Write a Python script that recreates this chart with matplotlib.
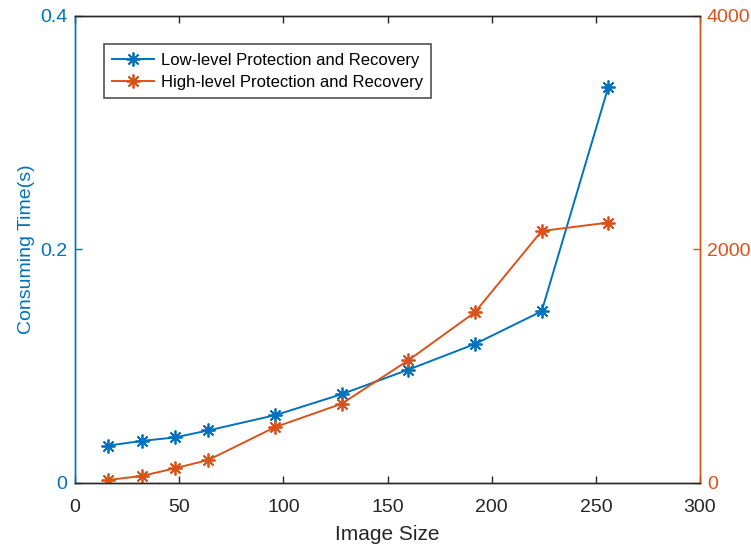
import matplotlib
matplotlib.use("Agg")
import matplotlib.pyplot as plt

plt.rcParams['font.family'] = ['Liberation Sans', 'DejaVu Sans']

image_size = [16, 32, 48, 64, 96, 128, 160, 192, 224, 256]
low_level_time = [0.032, 0.036, 0.039, 0.045, 0.058, 0.076, 0.097, 0.119, 0.147, 0.339]
high_level_time = [26, 60, 126, 197, 478, 678, 1050, 1462, 2157, 2229]

x_ticks = [0, 50, 100, 150, 200, 250, 300]
left_ticks = [0, 0.2, 0.4]
left_labels = ['0', '0.2', '0.4']
right_ticks = [0, 2000, 4000]

blue = '#0072BD'
orange = '#D95319'
dark = '#262626'

fig = plt.figure(figsize=(7.51, 5.45), dpi=100)
ax = fig.add_axes([0.0999, 0.1138, 0.8322, 0.8574])
ax2 = ax.twinx()

asterisk = (8, 2, 0)
l1, = ax.plot(image_size, low_level_time, color=blue, marker=asterisk, markersize=10,
              markeredgewidth=1.3, linewidth=1.4, label='Low-level Protection and Recovery')
l2, = ax2.plot(image_size, high_level_time, color=orange, marker=asterisk, markersize=10,
               markeredgewidth=1.3, linewidth=1.4, label='High-level Protection and Recovery')

ax.set_xlim(0, 300)
ax.set_ylim(0, 0.4)
ax2.set_ylim(0, 4000)
ax.set_xticks(x_ticks)
ax.set_yticks(left_ticks)
ax.set_yticklabels(left_labels)
ax2.set_yticks(right_ticks)

ax.tick_params(axis='x', direction='in', top=True, colors=dark, labelsize=14, length=5, width=1, pad=11.5)
ax.tick_params(axis='y', direction='in', colors=blue, labelsize=14, length=5, width=1, pad=5.5)
ax2.tick_params(axis='y', direction='in', colors=orange, labelsize=14, length=5, width=1, pad=5)

for a in (ax, ax2):
    a.spines['top'].set_color(dark)
    a.spines['bottom'].set_color(dark)
    a.spines['left'].set_color(blue)
    a.spines['right'].set_color(orange)
    for s in a.spines.values():
        s.set_linewidth(1.0)

ax.set_xlabel('Image Size', fontsize=15, color=dark, labelpad=6.5)
ax.set_ylabel('Consuming Time(s)', fontsize=14, color=blue, labelpad=3.5)

leg = ax.legend(handles=[l1, l2], loc='upper left', bbox_to_anchor=(0.0464, 0.939),
                fontsize=12, frameon=True, fancybox=False, edgecolor=dark,
                handlelength=2.5, borderpad=0.5, labelspacing=0.45, handletextpad=0.4,
                borderaxespad=0)
leg.get_frame().set_linewidth(1.2)

fig.savefig('out.png', dpi=100)
